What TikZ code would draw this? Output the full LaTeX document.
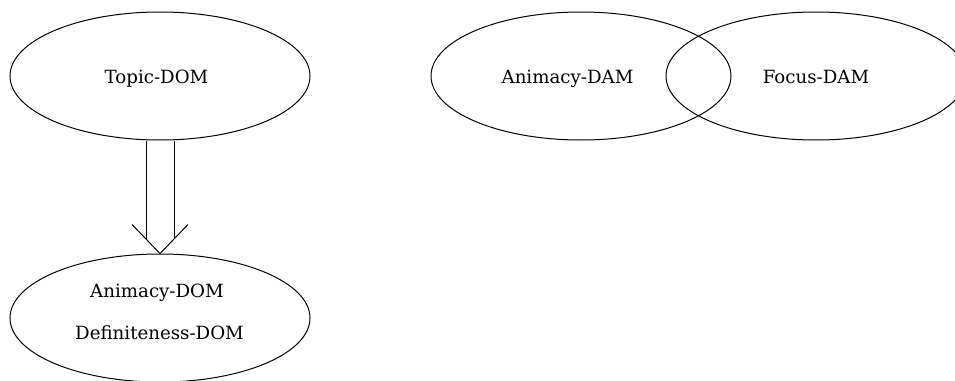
\documentclass[tikz,border=0pt]{standalone}
\usepackage{fontspec}
\setmainfont{DejaVu Serif}
\usetikzlibrary{shapes.geometric,calc}
\begin{document}
\begin{tikzpicture}[x=1pt,y=-1pt,
  blob/.style={draw, ellipse, minimum width=300pt, minimum height=128pt,
    inner sep=0pt, line width=1pt},
  tag/.style={font=\fontsize{18.2}{22}\selectfont, anchor=base, inner sep=0pt},
  implies/.style={line width=1pt, line join=miter}]
\useasboundingbox (0,0) rectangle (955,380);

% DOM hierarchy on the left
\node[blob] (topic) at (160,76) {};
\node[blob] (lower) at (160,318) {};
\node[tag] (topicText) at ($(topic.center)+(-3.5,7)$) {Topic-DOM};
\node[tag] (animDomText) at ($(lower.center)+(-3,-21)$) {Animacy-DOM};
\node[tag] (defDomText) at ($(lower.center)+(-0.5,21)$) {Definiteness-DOM};

% overlapping DAM types on the right
\node[blob] (anim) at (581,76) {};
\node[blob] (focus) at (816,76) {};
\node[tag] (animDamText) at ($(anim.center)+(-13.5,7)$) {Animacy-DAM};
\node[tag] (focusText) at ($(focus.center)+(0,7)$) {Focus-DAM};

% double-shafted open arrow from Topic-DOM down to the lower ellipse
\coordinate (tip) at (lower.north);
\coordinate (l0) at ($(topic.south)+(-14,0)$);
\coordinate (r0) at ($(topic.south)+(14,0)$);
\coordinate (l1) at ($(tip)+(-14,-14.5)$);
\coordinate (r1) at ($(tip)+(14,-14.5)$);
\draw[implies] (l0) -- (l1);
\draw[implies] (r0) -- (r1);
\draw[implies] ($(tip)+(-28,-29)$) -- (tip) -- ($(tip)+(28,-29)$);
\end{tikzpicture}
\end{document}
